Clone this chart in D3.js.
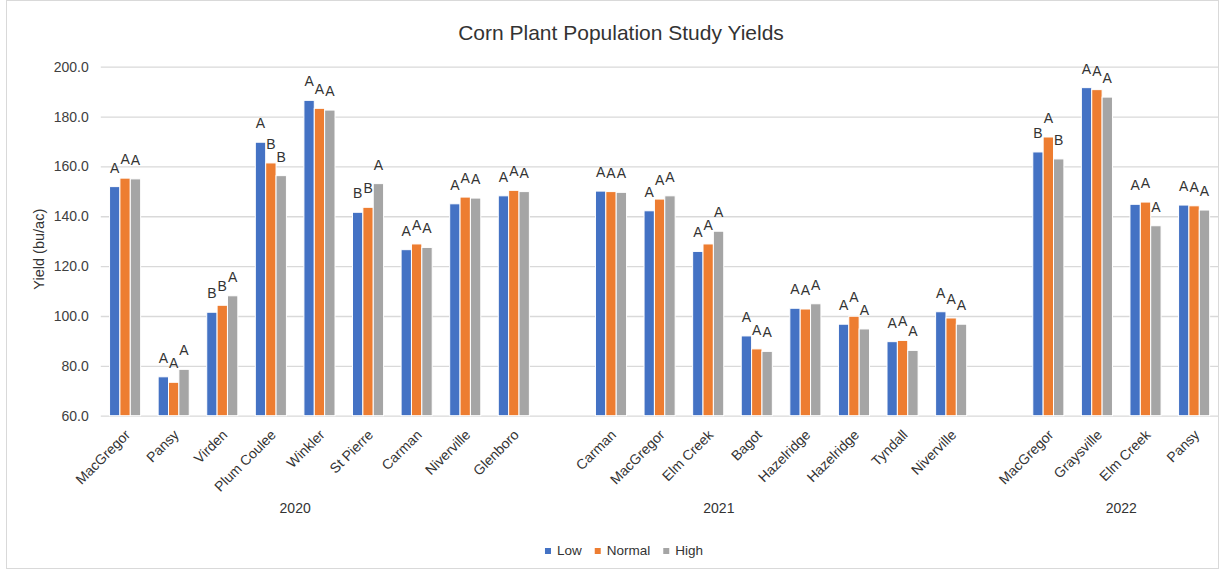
<!DOCTYPE html>
<html>
<head>
<meta charset="utf-8">
<title>Corn Plant Population Study Yields</title>
<script src="https://cdn.jsdelivr.net/npm/d3@7"></script>
<style>
  html, body { margin: 0; padding: 0; background: #ffffff; }
  svg { display: block; font-family: "Liberation Sans", Arial, sans-serif; }
</style>
</head>
<body>
<svg id="chart" width="1220" height="570"></svg>
<script>
// ---- Data -------------------------------------------------------------
const years = ["2020", "2021", "2022"];
const sites2020 = ["MacGregor", "Pansy", "Virden", "Plum Coulee", "Winkler", "St Pierre", "Carman", "Niverville", "Glenboro"];
const sites2021 = ["Carman", "MacGregor", "Elm Creek", "Bagot", "Hazelridge", "Hazelridge", "Tyndall", "Niverville"];
const sites2022 = ["MacGregor", "Graysville", "Elm Creek", "Pansy"];

const seriesNames = ["Low", "Normal", "High"];

const low2020    = [151.9, 75.6, 101.5, 169.7, 186.5, 141.6, 126.6, 145.0, 148.2];
const normal2020 = [155.3, 73.4, 104.3, 161.4, 183.3, 143.6, 128.9, 147.7, 150.4];
const high2020   = [155.0, 78.6, 108.1, 156.3, 182.6, 153.1, 127.5, 147.3, 149.9];

const low2021    = [150.1, 142.2, 125.9, 92.0, 103.1, 96.7, 89.7, 101.7];
const normal2021 = [149.9, 146.9, 128.9, 86.8, 102.8, 99.9, 90.2, 99.2];
const high2021   = [149.6, 148.2, 134.0, 85.8, 104.9, 94.8, 86.2, 96.7];

const low2022    = [165.8, 191.6, 144.8, 144.5];
const normal2022 = [171.8, 190.8, 145.7, 144.2];
const high2022   = [163.0, 187.8, 136.2, 142.5];

// Mean separation letters
const lowLetters2020    = ["A", "A", "B", "A", "A", "B", "A", "A", "A"];
const normalLetters2020 = ["A", "A", "B", "B", "A", "B", "A", "A", "A"];
const highLetters2020   = ["A", "A", "A", "B", "A", "A", "A", "A", "A"];
const lowLetters2021    = ["A", "A", "A", "A", "A", "A", "A", "A"];
const normalLetters2021 = ["A", "A", "A", "A", "A", "A", "A", "A"];
const highLetters2021   = ["A", "A", "A", "A", "A", "A", "A", "A"];
const lowLetters2022    = ["B", "A", "A", "A"];
const normalLetters2022 = ["A", "A", "A", "A"];
const highLetters2022   = ["B", "A", "A", "A"];

const yTicks = [60, 80, 100, 120, 140, 160, 180, 200];

// ---- Assemble rows (one per category slot; blank slots separate years) --
const groups = [
  { year: "2020", sites: sites2020, vals: [low2020, normal2020, high2020], letters: [lowLetters2020, normalLetters2020, highLetters2020] },
  { year: "2021", sites: sites2021, vals: [low2021, normal2021, high2021], letters: [lowLetters2021, normalLetters2021, highLetters2021] },
  { year: "2022", sites: sites2022, vals: [low2022, normal2022, high2022], letters: [lowLetters2022, normalLetters2022, highLetters2022] }
];

const slots = [];
groups.forEach((g, gi) => {
  if (gi > 0) slots.push({ key: "blank-" + gi, blank: true });
  g.sites.forEach((s, i) => {
    slots.push({
      key: g.year + "-" + i,
      site: s,
      year: g.year,
      bars: seriesNames.map((name, k) => ({ series: name, value: g.vals[k][i], letter: g.letters[k][i] }))
    });
  });
});

// ---- Layout ------------------------------------------------------------
const svg = d3.select("#chart");
const W = 1220, H = 570;
const plot = { left: 100.8, right: 1218.4, top: 66.7, bottom: 415.7 };

const colors = d3.scaleOrdinal().domain(seriesNames).range(["#4472C4", "#ED7D31", "#A5A5A5"]);

const x = d3.scaleBand()
  .domain(slots.map(d => d.key))
  .range([plot.left, plot.right])
  .padding(0);

const groupWidth = x.step() * 0.64;
const xInner = d3.scaleBand()
  .domain(seriesNames)
  .range([0, groupWidth]);

const y = d3.scaleLinear()
  .domain([60, 200])
  .range([plot.bottom, plot.top]);

// chart area border
svg.append("rect")
  .attr("x", 6.5).attr("y", 0.5)
  .attr("width", W - 8).attr("height", H - 2)
  .attr("fill", "#ffffff")
  .attr("stroke", "#d9d9d9")
  .attr("stroke-width", 1);

// title
svg.append("text")
  .attr("x", 621).attr("y", 40)
  .attr("text-anchor", "middle")
  .attr("font-size", 21)
  .attr("fill", "#333333")
  .text("Corn Plant Population Study Yields");

// gridlines + y axis labels
const yAxis = d3.axisLeft(y)
  .tickValues(yTicks)
  .tickFormat(d3.format(".1f"))
  .tickSize(-(plot.right - plot.left))
  .tickPadding(12);

const yG = svg.append("g")
  .attr("transform", `translate(${plot.left},0)`)
  .call(yAxis);
yG.select(".domain").remove();
yG.selectAll(".tick line")
  .attr("stroke", "#d9d9d9")
  .attr("stroke-width", 1.3);
yG.selectAll(".tick text")
  .attr("font-family", "Liberation Sans, Arial, sans-serif")
  .attr("font-size", 14)
  .attr("fill", "#404040");

// y axis title
svg.append("text")
  .attr("transform", `translate(44,${(plot.top + plot.bottom) / 2 + 8}) rotate(-90)`)
  .attr("text-anchor", "middle")
  .attr("font-size", 14.5)
  .attr("fill", "#333333")
  .text("Yield (bu/ac)");

// bars
const dataSlots = slots.filter(d => !d.blank);
const slotG = svg.append("g").selectAll("g")
  .data(dataSlots)
  .join("g")
  .attr("transform", d => `translate(${x(d.key) + (x.bandwidth() - groupWidth) / 2},0)`);

slotG.selectAll("rect")
  .data(d => d.bars)
  .join("rect")
  .attr("x", d => xInner(d.series))
  .attr("y", d => y(d.value))
  .attr("width", xInner.bandwidth())
  .attr("height", d => y(60) - y(d.value))
  .attr("fill", d => colors(d.series))
  .attr("stroke", "#ffffff")
  .attr("stroke-width", 1);

// letter labels above bars
slotG.selectAll("text")
  .data(d => d.bars)
  .join("text")
  .attr("x", d => xInner(d.series) + xInner.bandwidth() / 2)
  .attr("y", d => y(d.value) - 14)
  .attr("text-anchor", "middle")
  .attr("font-size", 14)
  .attr("fill", "#333333")
  .text(d => d.letter);

// category labels (rotated)
svg.append("g").selectAll("text")
  .data(dataSlots)
  .join("text")
  .attr("transform", d => `translate(${x(d.key) + x.bandwidth() / 2 + 6},${plot.bottom + 20}) rotate(-45)`)
  .attr("text-anchor", "end")
  .attr("font-size", 14)
  .attr("fill", "#333333")
  .text(d => d.site);

// year labels, positioned in category-slot units
const yearSlotPos = { "2020": 3.5, "2021": 12.22, "2022": 20.5 };
svg.append("g").selectAll("text")
  .data(years)
  .join("text")
  .attr("x", d => plot.left + (yearSlotPos[d] + 0.5) * x.step())
  .attr("y", 513)
  .attr("text-anchor", "middle")
  .attr("font-size", 14)
  .attr("fill", "#333333")
  .text(d => d);

// legend
const legend = svg.append("g");
let lx = 0;
seriesNames.forEach(name => {
  const item = legend.append("g").attr("transform", `translate(${lx},0)`);
  item.append("rect")
    .attr("x", 0).attr("y", -6)
    .attr("width", 6).attr("height", 6)
    .attr("fill", colors(name));
  const t = item.append("text")
    .attr("x", 12).attr("y", 1)
    .attr("font-size", 13.5)
    .attr("fill", "#333333")
    .text(name);
  lx += 12 + t.node().getComputedTextLength() + 13;
});
const legendWidth = lx - 13;
legend.attr("transform", `translate(${624 - legendWidth / 2},554)`);
</script>
</body>
</html>
